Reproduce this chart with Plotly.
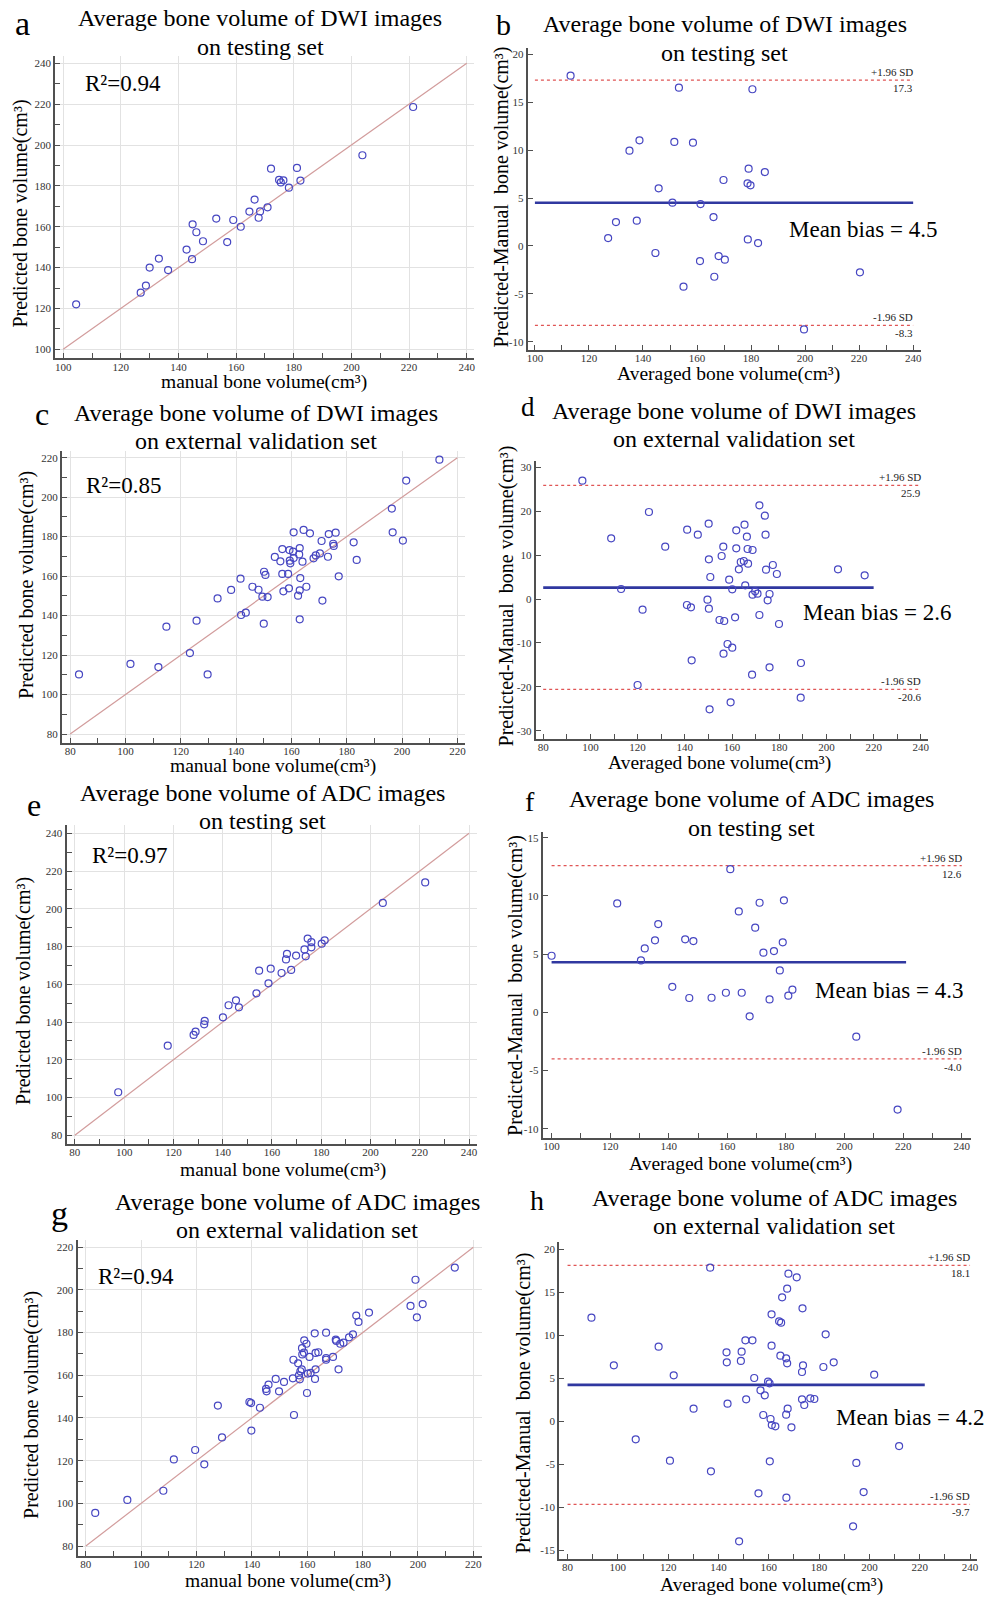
import plotly.graph_objects as go

W, H = 990, 1597
FONT = "Liberation Serif"

# ---------------- DATA ----------------
# a: DWI testing set (manual vs predicted)
a_manual = [104.5, 126.9, 128.7, 130.0, 133.2, 136.4, 142.8, 144.7, 144.9, 146.2, 148.5, 153.1, 156.9, 159.0,
            161.6, 164.6, 166.4, 167.8, 168.3, 170.9, 172.1, 174.9, 175.5, 176.4, 178.3, 181.1, 182.3, 203.8, 221.4]
a_pred = [122.0, 127.7, 131.2, 140.0, 144.4, 138.8, 148.8, 144.1, 161.2, 157.3, 152.9, 164.0, 152.5, 163.3,
          160.0, 167.4, 173.3, 164.4, 167.5, 169.5, 188.4, 182.9, 181.7, 182.7, 179.1, 188.8, 182.6, 195.0, 218.6]
a_r2 = "0.94"

# b: DWI testing set Bland-Altman
b_avg = [113.2, 127.1, 130.0, 135.0, 137.7, 138.7, 144.6, 145.8, 150.9, 151.6, 153.3, 155.0, 158.5, 161.1,
         161.3, 166.1, 166.4, 168.0, 169.8, 170.3, 178.8, 178.7, 179.1, 179.8, 180.5, 182.6, 185.1, 199.6, 220.3]
b_diff = [17.77, 0.82, 2.49, 9.94, 2.63, 11.02, -0.74, 6.01, 4.51, 10.85, 16.52, -4.26, 10.78, -1.58,
          4.37, 3.01, -3.22, -1.06, 6.88, -1.44, 0.68, 6.53, 8.06, 6.32, 16.35, 0.30, 7.71, -8.72, -2.76]
b_mean, b_upper, b_lower = 4.5, 17.3, -8.3
b_mean_span = [100, 240]
b_sd_span = [100, 240]

# c: DWI external validation set
c_manual = [83.2, 101.8, 111.9, 114.8, 123.3, 125.7, 129.7, 133.3, 138.2, 141.6, 141.8, 143.5, 145.9, 148.1,
            149.5, 150.0, 150.1, 150.6, 151.4, 154.0, 156.0, 156.7, 156.7, 157.1, 158.8, 159.1, 159.3, 159.4,
            159.6, 160.6, 160.8, 160.8, 162.4, 162.8, 163.0, 163.0, 163.0, 163.2, 164.0, 164.4, 165.4, 166.7,
            168.0, 168.8, 170.3, 170.9, 171.2, 173.2, 173.5, 175.1, 175.3, 176.0, 177.1, 182.5, 183.6, 196.3,
            196.6, 200.3, 201.5, 213.5]
c_pred = [110.2, 115.5, 113.9, 134.4, 121.0, 137.4, 110.2, 148.7, 153.0, 158.7, 140.3, 141.5, 154.6, 153.1,
          149.6, 135.9, 162.2, 160.6, 149.4, 169.7, 167.5, 173.7, 161.1, 152.3, 161.1, 153.8, 173.2, 167.8,
          166.5, 172.4, 182.2, 169.2, 150.1, 171.0, 174.2, 152.8, 138.1, 159.0, 167.3, 183.4, 154.6, 181.7,
          169.0, 170.5, 171.5, 177.8, 147.6, 169.8, 181.3, 176.4, 175.3, 182.0, 159.9, 177.1, 168.2, 194.2,
          182.2, 178.0, 208.4, 219.0]
c_r2 = "0.85"

# d: DWI external validation set Bland-Altman
d_avg = [96.6, 108.8, 113.0, 120.0, 122.1, 124.8, 131.7, 140.9, 141.0, 142.6, 142.9, 145.5, 149.6, 150.1,
         150.2, 150.2, 150.5, 150.8, 154.7, 155.6, 156.3, 156.4, 156.7, 158.1, 158.8, 159.4, 160.1, 160.1,
         161.3, 161.8, 161.8, 162.9, 163.7, 165.0, 165.3, 165.6, 166.3, 166.6, 166.8, 168.5, 168.7, 168.7,
         169.8, 170.8, 171.6, 171.6, 173.9, 174.2, 174.4, 175.1, 175.9, 175.9, 177.3, 179.0, 179.9, 189.2,
         189.1, 204.9, 216.2]
d_diff = [26.96, 13.82, 2.28, -19.59, -2.43, 19.82, 11.92, -1.37, 15.79, -1.90, -13.97, 14.65, -0.15, 17.16,
          9.04, -2.20, -25.13, 5.01, -4.78, 9.80, 11.92, -12.45, -5.01, -10.25, 4.40, -23.54, 2.20, -11.09,
          -4.18, 15.64, 11.54, 6.76, 8.43, 8.66, 16.93, 3.11, 14.20, 11.39, 8.05, -17.24, 11.16, 0.99,
          1.75, 1.21, -3.64, 21.34, 18.98, 14.65, 6.68, -0.30, 1.14, -15.57, 7.74, 5.69, -5.69, -14.58,
          -22.48, 6.76, 5.39]
d_mean, d_upper, d_lower = 2.6, 25.9, -20.6
d_mean_span = [80, 220]
d_sd_span = [80, 240]

# e: ADC testing set
e_manual = [97.6, 117.7, 128.2, 129.0, 132.5, 132.7, 140.1, 142.4, 145.4, 146.6, 153.7, 154.8, 158.6, 159.5,
            163.9, 165.7, 166.1, 167.8, 169.8, 173.2, 173.7, 174.5, 176.0, 176.0, 180.2, 181.4, 205.0, 222.2]
e_pred = [102.8, 127.5, 133.2, 134.9, 138.8, 140.6, 142.5, 148.9, 151.5, 147.8, 155.2, 167.2, 160.5, 168.3,
          166.0, 173.2, 176.1, 167.6, 175.2, 178.5, 174.8, 184.2, 182.3, 179.6, 181.5, 183.3, 203.1, 214.0]
e_r2 = "0.97"

# f: ADC testing set Bland-Altman
f_avg = [100.0, 122.4, 130.5, 131.8, 135.3, 136.4, 141.2, 145.6, 147.0, 148.4, 154.6, 159.5, 161.0, 163.9,
         164.9, 167.6, 169.5, 171.0, 172.3, 174.4, 175.9, 177.9, 178.9, 179.3, 180.8, 182.2, 204.0, 218.1]
f_diff = [4.86, 9.35, 4.46, 5.49, 6.18, 7.58, 2.19, 6.27, 1.23, 6.12, 1.25, 1.68, 12.30, 8.67,
          1.68, -0.35, 7.27, 9.41, 5.12, 1.11, 5.26, 3.60, 6.01, 9.62, 1.43, 1.94, -2.09, -8.36]
f_mean, f_upper, f_lower = 4.3, 12.6, -4.0
f_mean_span = [100, 221]
f_sd_span = [100, 240]

# g: ADC external validation set
g_manual = [83.4, 95.0, 108.0, 111.8, 119.5, 122.8, 127.7, 129.2, 139.1, 139.7, 139.8, 142.9, 145.1, 145.3,
            146.0, 148.6, 149.8, 151.6, 154.8, 155.0, 155.2, 156.7, 157.0, 157.3, 157.5, 158.0, 158.1, 158.2,
            158.8, 158.9, 159.7, 159.9, 160.2, 160.8, 161.2, 162.7, 162.8, 163.0, 163.0, 164.0, 166.8, 166.8,
            166.8, 169.3, 170.3, 170.5, 171.3, 171.9, 173.1, 175.1, 176.5, 177.7, 178.5, 182.3, 197.3, 199.1,
            199.6, 201.7, 213.3]
g_pred = [95.5, 101.6, 105.9, 120.6, 125.0, 118.3, 145.8, 130.9, 147.5, 147.0, 134.1, 144.8, 153.6, 152.5,
          155.6, 158.3, 152.5, 156.9, 158.6, 167.3, 141.4, 165.6, 160.0, 158.1, 161.9, 162.8, 172.7, 169.8,
          170.6, 176.4, 174.8, 151.7, 160.8, 168.6, 161.1, 179.7, 158.3, 162.8, 170.5, 170.8, 180.0, 168.1,
          167.3, 168.6, 176.7, 176.1, 162.8, 174.8, 175.3, 177.8, 179.2, 188.0, 185.0, 189.4, 192.5, 204.8,
          187.2, 193.4, 210.5]
g_r2 = "0.94"

# h: ADC external validation set Bland-Altman
h_avg = [89.5, 98.4, 107.1, 116.2, 120.7, 122.2, 130.1, 136.7, 137.0, 143.2, 143.3, 143.6, 148.2, 148.9,
         149.2, 150.7, 151.0, 153.5, 154.2, 155.9, 156.7, 157.8, 158.4, 159.7, 160.3, 160.4, 160.7, 161.1,
         161.1, 161.2, 162.6, 164.1, 164.6, 164.9, 165.3, 166.9, 166.9, 167.0, 167.3, 167.3, 167.5, 167.8,
         169.0, 171.1, 173.2, 173.2, 173.4, 173.6, 174.1, 176.5, 178.1, 181.7, 182.6, 185.8, 193.5, 194.8,
         197.7, 201.9, 211.8]
h_diff = [12.02, 6.47, -2.13, 8.64, -4.61, 5.31, 1.43, 17.83, -5.85, 7.98, 6.82, 2.02, -13.99, 6.98,
          8.06, 9.38, 2.52, 9.38, 5.00, -8.41, 3.57, 0.70, 2.98, 4.57, 4.38, -4.69, 0.23, 8.76,
          12.40, -0.47, -0.62, 11.59, 7.60, 11.43, 14.38, 7.29, 0.74, -8.91, 15.39, 6.71, 1.43, 17.13,
          -0.74, 16.71, 2.52, 5.70, 13.10, 6.47, 1.86, 2.64, 2.56, 6.28, 10.08, 6.82, -12.25, -4.88,
          -8.26, 5.39, -2.91]
h_mean, h_upper, h_lower = 4.2, 18.1, -9.7
h_mean_span = [80, 222]
h_sd_span = [80, 240]

scatter_xlabel = "manual bone volume(cm³)"
scatter_ylabel = "Predicted bone volume(cm³)"
ba_xlabel = "Averaged bone volume(cm³)"
ba_ylabel = "Predicted-Manual  bone volume(cm³)"
title_dwi = "Average bone volume of DWI images"
title_adc = "Average bone volume of ADC images"
sub_test = "on testing set"
sub_ext = "on external validation set"

# ---------------- LAYOUT GEOMETRY (pixels) ----------------
panels = [
    dict(letter="a", kind="sc", x=a_manual, y=a_pred, r2=a_r2, ident=[100, 240],
         frame=(54.3, 474, 56, 358.3), xcal=(100, 62.3, 240, 466.7), ycal=(240, 63.3, 100, 349.3),
         xt=list(range(100, 241, 20)), yt=list(range(100, 241, 20)),
         t1=title_dwi, t2=sub_test, tc=260, ty=(18.3, 46.7), lt=(21.7, 23.3, 34),
         txt=(81.7, 83), ytl=(19.3, 213.3), xtl=(264, 382)),
    dict(letter="b", kind="ba", x=b_avg, y=b_diff, mean=b_mean, up=b_upper, lo=b_lower,
         mspan=b_mean_span, sspan=b_sd_span,
         frame=(527.7, 922.3, 47.7, 350), xcal=(100, 535, 240, 914), ycal=(20, 54.3, -10, 341.7),
         xt=list(range(100, 241, 20)), yt=list(range(-10, 21, 5)),
         t1=title_dwi, t2=sub_test, tc=725, ty=(24, 52.7), lt=(504, 25, 30),
         txt=(787.7, 229.3), ytl=(501.7, 196.7), xtl=(729, 374.5)),
    dict(letter="c", kind="sc", x=c_manual, y=c_pred, r2=c_r2, ident=[80, 220],
         frame=(61, 465, 451, 742.7), xcal=(80, 69.3, 220, 457.3), ycal=(220, 457.7, 80, 734),
         xt=list(range(80, 221, 20)), yt=list(range(80, 221, 20)),
         t1=title_dwi, t2=sub_ext, tc=256, ty=(412.7, 440.7), lt=(41, 414, 32),
         txt=(82.7, 485.7), ytl=(25, 585), xtl=(272.5, 766)),
    dict(letter="d", kind="ba", x=d_avg, y=d_diff, mean=d_mean, up=d_upper, lo=d_lower,
         mspan=d_mean_span, sspan=d_sd_span,
         frame=(535.7, 929.3, 460.7, 739), xcal=(80, 543.3, 240, 921.7), ycal=(30, 467.3, -30, 730.7),
         xt=list(range(80, 241, 20)), yt=list(range(-30, 31, 10)),
         t1=title_dwi, t2=sub_ext, tc=734, ty=(411, 439.3), lt=(528.3, 406.7, 27),
         txt=(801.7, 612.7), ytl=(506.7, 595.8), xtl=(720, 763)),
    dict(letter="e", kind="sc", x=e_manual, y=e_pred, r2=e_r2, ident=[80, 240],
         frame=(65.7, 477.3, 825, 1144), xcal=(80, 74, 240, 469), ycal=(240, 833.3, 80, 1135.3),
         xt=list(range(80, 241, 20)), yt=list(range(80, 241, 20)),
         t1=title_adc, t2=sub_test, tc=262, ty=(792.7, 821), lt=(33.3, 805, 32),
         txt=(89.3, 855), ytl=(23.3, 990.8), xtl=(283, 1170)),
    dict(letter="f", kind="ba", x=f_avg, y=f_diff, mean=f_mean, up=f_upper, lo=f_lower,
         mspan=f_mean_span, sspan=f_sd_span,
         frame=(542.7, 971.7, 831.7, 1137.7), xcal=(100, 551.7, 240, 962.7), ycal=(15, 837.7, -10, 1128.7),
         xt=list(range(100, 241, 20)), yt=list(range(-10, 16, 5)),
         t1=title_adc, t2=sub_test, tc=752, ty=(799.3, 828.3), lt=(530, 801.7, 28),
         txt=(813.3, 990.7), ytl=(515, 985), xtl=(741, 1164)),
    dict(letter="g", kind="sc", x=g_manual, y=g_pred, r2=g_r2, ident=[80, 220],
         frame=(76.7, 481.7, 1240, 1555.7), xcal=(80, 85, 220, 473.3), ycal=(220, 1247.3, 80, 1546),
         xt=list(range(80, 221, 20)), yt=list(range(80, 221, 20)),
         t1=title_adc, t2=sub_ext, tc=297, ty=(1202.3, 1230), lt=(58.3, 1213.3, 34),
         txt=(95, 1276.7), ytl=(30, 1405), xtl=(287.5, 1580.7)),
    dict(letter="h", kind="ba", x=h_avg, y=h_diff, mean=h_mean, up=h_upper, lo=h_lower,
         mspan=h_mean_span, sspan=h_sd_span,
         frame=(559.3, 978.3, 1241.7, 1559), xcal=(80, 567.7, 240, 971), ycal=(20, 1249, -15, 1550),
         xt=list(range(80, 241, 20)), yt=list(range(-15, 21, 5)),
         t1=title_adc, t2=sub_ext, tc=775, ty=(1198.3, 1226), lt=(536.7, 1200, 28),
         txt=(835, 1417.7), ytl=(523.3, 1403.3), xtl=(772.5, 1585)),
]

MARKER_COLOR = "#4747c2"
IDENT_COLOR = "#d29c9c"
MEAN_COLOR = "#3038a0"
SD_COLOR = "#e05555"
AXIS_COLOR = "#505050"
GRID_COLOR = "#e2e2e2"
TICK_FONT = dict(family=FONT, size=11, color="#333333")


def px(x, y):
    return x / W, 1 - y / H


def axis_range(p_lo, p_hi, cal):
    v1, p1, v2, p2 = cal
    s = (p2 - p1) / (v2 - v1)
    return [v1 + (p_lo - p1) / s, v1 + (p_hi - p1) / s]


fig = go.Figure()
annotations = []
layout = {}

for i, p in enumerate(panels, start=1):
    xa = "x" if i == 1 else f"x{i}"
    ya = "y" if i == 1 else f"y{i}"
    L, R, T, B = p["frame"]
    xr = axis_range(L, R, p["xcal"])
    yr = axis_range(B, T, p["ycal"])
    grid = p["kind"] == "sc"
    common = dict(showline=True, linecolor=AXIS_COLOR, linewidth=2, ticks="inside", ticklen=5,
                  tickwidth=1.3, tickcolor=AXIS_COLOR, tickfont=TICK_FONT, zeroline=False,
                  showgrid=grid, gridcolor=GRID_COLOR, gridwidth=1, mirror=False, fixedrange=True)
    xkey = "xaxis" if i == 1 else f"xaxis{i}"
    ykey = "yaxis" if i == 1 else f"yaxis{i}"
    layout[xkey] = dict(common, domain=[L / W, R / W], range=xr, anchor=ya, ticklabelstandoff=-3,
                        tickmode="array", tickvals=p["xt"], ticktext=[str(v) for v in p["xt"]],
                        minor=dict(tickmode="linear", tick0=p["xt"][0] - 10, dtick=20, ticks="inside",
                                   ticklen=5, tickcolor=AXIS_COLOR, tickwidth=1.3, showgrid=False))
    ydict = dict(common, domain=[1 - B / H, 1 - T / H], range=yr, anchor=xa,
                 tickmode="array", tickvals=p["yt"], ticktext=[str(v) for v in p["yt"]])
    if grid:
        ydict["minor"] = dict(tickmode="linear", tick0=p["yt"][0] - 10, dtick=20, ticks="inside",
                              ticklen=5, tickcolor=AXIS_COLOR, tickwidth=1.3, showgrid=False)
    layout[ykey] = ydict

    if p["kind"] == "sc":
        fig.add_trace(go.Scatter(x=p["ident"], y=p["ident"], mode="lines", xaxis=xa, yaxis=ya,
                                 line=dict(color=IDENT_COLOR, width=1.2), hoverinfo="skip"))
        fig.add_trace(go.Scatter(x=p["x"], y=p["y"], mode="markers", xaxis=xa, yaxis=ya,
                                 marker=dict(symbol="circle-open", size=7, color=MARKER_COLOR,
                                             line=dict(width=1.2, color=MARKER_COLOR))))
        x0, y0 = px(*p["txt"])
        annotations.append(dict(text=f"R²={p['r2']}", x=x0, y=y0, xref="paper", yref="paper",
                                xanchor="left", yanchor="middle", showarrow=False,
                                font=dict(family=FONT, size=23, color="black")))
    else:
        for val in (p["up"], p["lo"]):
            fig.add_trace(go.Scatter(x=p["sspan"], y=[val, val], mode="lines", xaxis=xa, yaxis=ya,
                                     line=dict(color=SD_COLOR, width=1.2, dash="dot"), hoverinfo="skip"))
        fig.add_trace(go.Scatter(x=p["mspan"], y=[p["mean"], p["mean"]], mode="lines", xaxis=xa, yaxis=ya,
                                 line=dict(color=MEAN_COLOR, width=2.6), hoverinfo="skip"))
        fig.add_trace(go.Scatter(x=p["x"], y=p["y"], mode="markers", xaxis=xa, yaxis=ya,
                                 marker=dict(symbol="circle-open", size=7, color=MARKER_COLOR,
                                             line=dict(width=1.2, color=MARKER_COLOR))))
        xend = p["sspan"][1]
        sd_font = dict(family=FONT, size=11, color="#222222")
        for val, lab in ((p["up"], "+1.96 SD"), (p["lo"], "-1.96 SD")):
            annotations.append(dict(text=lab, x=xend, y=val, xref=xa, yref=ya, xanchor="right",
                                    yanchor="bottom", showarrow=False, font=sd_font, yshift=0,
                                    xshift=2))
            annotations.append(dict(text=f"{val:.1f}", x=xend, y=val, xref=xa, yref=ya, xanchor="right",
                                    yanchor="top", showarrow=False, font=sd_font, yshift=0, xshift=2))
        x0, y0 = px(*p["txt"])
        annotations.append(dict(text=f"Mean bias = {p['mean']}", x=x0, y=y0, xref="paper", yref="paper",
                                xanchor="left", yanchor="middle", showarrow=False,
                                font=dict(family=FONT, size=23, color="black")))

    # titles
    for line, yy in ((p["t1"], p["ty"][0]), (p["t2"], p["ty"][1])):
        x0, y0 = px(p["tc"], yy)
        annotations.append(dict(text=line, x=x0, y=y0, xref="paper", yref="paper", xanchor="center",
                                yanchor="middle", showarrow=False,
                                font=dict(family=FONT, size=24, color="black")))
    # panel letter
    lx, ly, ls = p["lt"]
    x0, y0 = px(lx, ly)
    annotations.append(dict(text=p["letter"], x=x0, y=y0, xref="paper", yref="paper", xanchor="center",
                            yanchor="middle", showarrow=False, font=dict(family=FONT, size=ls, color="black")))
    # axis titles
    x0, y0 = px(*p["ytl"])
    annotations.append(dict(text=scatter_ylabel if p["kind"] == "sc" else ba_ylabel, x=x0, y=y0,
                            xref="paper", yref="paper", xanchor="center", yanchor="middle", textangle=-90,
                            showarrow=False, font=dict(family=FONT, size=20, color="black")))
    x0, y0 = px(*p["xtl"])
    annotations.append(dict(text=scatter_xlabel if p["kind"] == "sc" else ba_xlabel, x=x0, y=y0,
                            xref="paper", yref="paper", xanchor="center", yanchor="middle",
                            showarrow=False, font=dict(family=FONT, size=19.5, color="black")))

fig.update_layout(**layout)
fig.update_layout(width=W, height=H, margin=dict(l=0, r=0, t=0, b=0), showlegend=False,
                  plot_bgcolor="white", paper_bgcolor="white", annotations=annotations,
                  font=dict(family=FONT))
fig.write_html("out.html", config={"displayModeBar": False},
               post_script="document.body.style.margin='0px';document.body.style.padding='0px';")
